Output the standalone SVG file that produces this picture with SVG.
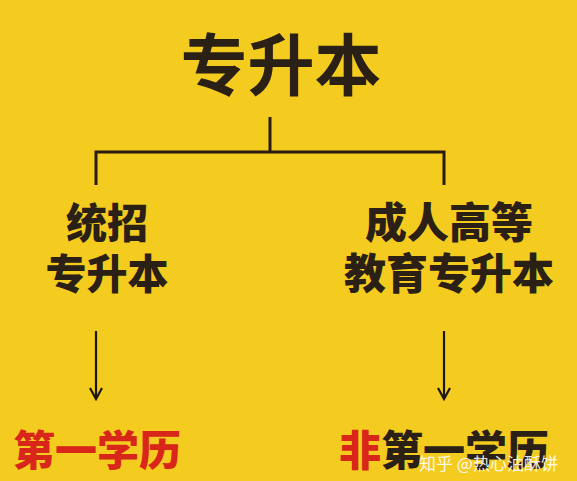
<svg xmlns="http://www.w3.org/2000/svg" width="577" height="481" viewBox="0 0 577 481">
<defs>
<style>
.t{font-family:"Noto Sans CJK SC","Noto Sans",sans-serif;text-anchor:middle;fill:#2a2016}
.ln{stroke:#2a1c12;stroke-width:3;fill:none}
.ar{stroke:#1e1610;stroke-width:2.2;fill:none}
.red{fill:#d8261a}
</style>
<marker id="ah" viewBox="0 0 14 14" refX="12" refY="7" markerWidth="14" markerHeight="14" markerUnits="userSpaceOnUse" orient="auto">
<path d="M1 1 L12 7 L1 13" fill="none" stroke="#1e1610" stroke-width="2.2"/>
</marker>
</defs>
<rect width="577" height="481" fill="#f4cb1f"/>
<g id="root"><text class="t" x="281" y="90" font-size="67" font-weight="700">专升本</text></g>
<g id="connectors">
<path class="ln" d="M270 117 V152 M96 185 V152 H444 V185"/>
<line class="ar" x1="96" y1="331" x2="96" y2="399" marker-end="url(#ah)"/>
<line class="ar" x1="444" y1="331" x2="444" y2="399" marker-end="url(#ah)"/>
</g>
<g id="left"><text class="t" x="107" y="238" font-size="41" font-weight="900">统招</text><text class="t" x="107" y="289" font-size="41" font-weight="900">专升本</text></g>
<g id="right"><text class="t" x="449" y="238" font-size="42" font-weight="900">成人高等</text><text class="t" x="449" y="289" font-size="42" font-weight="900">教育专升本</text></g>
<g id="first"><text class="t red" x="97" y="466" font-size="42" font-weight="900">第一学历</text></g>
<g id="nonfirst"><text class="t" x="444" y="466" font-size="42" font-weight="900"><tspan class="red">非</tspan>第一学历</text></g>
<text x="419" y="470" font-family="Noto Sans CJK SC,sans-serif" font-size="17" fill="#ffffff" fill-opacity="0.9">知乎 @热心油酥饼</text>
</svg>
